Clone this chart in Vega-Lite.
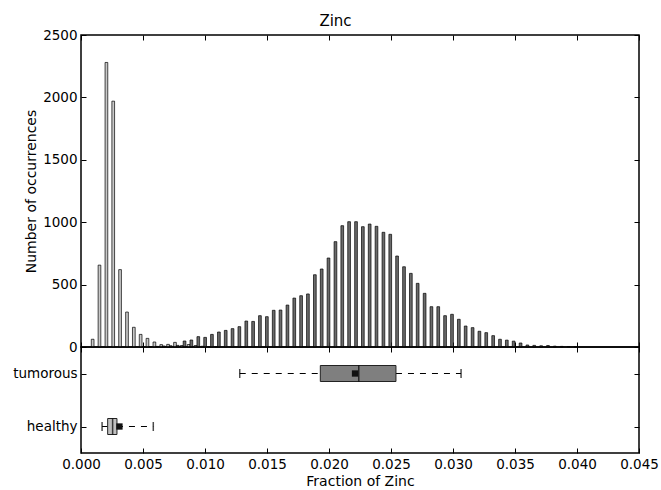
{
  "$schema": "https://vega.github.io/schema/vega-lite/v6.json",
  "padding": {"left": 11, "top": 14, "right": 5, "bottom": 0},
  "bounds": "flush",
  "spacing": 0,
  "title": {"text": "Zinc", "fontSize": 15, "fontWeight": "normal", "font": "DejaVu Sans", "color": "black", "anchor": "middle", "offset": -2},
  "config": {
    "font": "DejaVu Sans",
    "view": {"stroke": "black", "strokeWidth": 1.5},
    "axis": {"labelFont": "DejaVu Sans", "labelFontSize": 13.5, "labelColor": "black", "titleFont": "DejaVu Sans", "titleFontSize": 14, "titleFontWeight": "normal", "titleColor": "black", "grid": false, "domain": false, "tickColor": "black", "tickSize": 5, "offset": -5, "tickWidth": 1, "labelPadding": 4, "titlePadding": 4, "labelFlush": false}
  },
  "datasets": {
    "hist": [
      {"z": 0.00094, "group": "healthy", "n": 62},
      {"z": 0.00149, "group": "healthy", "n": 656},
      {"z": 0.00205, "group": "healthy", "n": 2280},
      {"z": 0.00260, "group": "healthy", "n": 1970},
      {"z": 0.00315, "group": "healthy", "n": 620},
      {"z": 0.00371, "group": "healthy", "n": 280},
      {"z": 0.00426, "group": "healthy", "n": 158},
      {"z": 0.00481, "group": "healthy", "n": 101},
      {"z": 0.00536, "group": "healthy", "n": 69},
      {"z": 0.00592, "group": "healthy", "n": 40},
      {"z": 0.00647, "group": "healthy", "n": 19},
      {"z": 0.00702, "group": "healthy", "n": 21},
      {"z": 0.00758, "group": "healthy", "n": 37},
      {"z": 0.00813, "group": "healthy", "n": 12},
      {"z": 0.00868, "group": "healthy", "n": 20},
      {"z": 0.00924, "group": "healthy", "n": 12},
      {"z": 0.00979, "group": "healthy", "n": 6},
      {"z": 0.01034, "group": "healthy", "n": 3},
      {"z": 0.01089, "group": "healthy", "n": 2},
      {"z": 0.00503, "group": "tumorous", "n": 2},
      {"z": 0.00559, "group": "tumorous", "n": 3},
      {"z": 0.00614, "group": "tumorous", "n": 5},
      {"z": 0.00669, "group": "tumorous", "n": 8},
      {"z": 0.00724, "group": "tumorous", "n": 10},
      {"z": 0.00780, "group": "tumorous", "n": 13},
      {"z": 0.00835, "group": "tumorous", "n": 48},
      {"z": 0.00890, "group": "tumorous", "n": 56},
      {"z": 0.00946, "group": "tumorous", "n": 83},
      {"z": 0.01001, "group": "tumorous", "n": 77},
      {"z": 0.01056, "group": "tumorous", "n": 101},
      {"z": 0.01112, "group": "tumorous", "n": 120},
      {"z": 0.01167, "group": "tumorous", "n": 133},
      {"z": 0.01222, "group": "tumorous", "n": 147},
      {"z": 0.01277, "group": "tumorous", "n": 163},
      {"z": 0.01333, "group": "tumorous", "n": 208},
      {"z": 0.01388, "group": "tumorous", "n": 205},
      {"z": 0.01443, "group": "tumorous", "n": 251},
      {"z": 0.01499, "group": "tumorous", "n": 243},
      {"z": 0.01554, "group": "tumorous", "n": 294},
      {"z": 0.01609, "group": "tumorous", "n": 296},
      {"z": 0.01665, "group": "tumorous", "n": 336},
      {"z": 0.01720, "group": "tumorous", "n": 392},
      {"z": 0.01775, "group": "tumorous", "n": 411},
      {"z": 0.01830, "group": "tumorous", "n": 425},
      {"z": 0.01886, "group": "tumorous", "n": 579},
      {"z": 0.01941, "group": "tumorous", "n": 625},
      {"z": 0.01996, "group": "tumorous", "n": 713},
      {"z": 0.02052, "group": "tumorous", "n": 844},
      {"z": 0.02107, "group": "tumorous", "n": 972},
      {"z": 0.02162, "group": "tumorous", "n": 1004},
      {"z": 0.02218, "group": "tumorous", "n": 1004},
      {"z": 0.02273, "group": "tumorous", "n": 964},
      {"z": 0.02328, "group": "tumorous", "n": 985},
      {"z": 0.02383, "group": "tumorous", "n": 967},
      {"z": 0.02439, "group": "tumorous", "n": 919},
      {"z": 0.02494, "group": "tumorous", "n": 903},
      {"z": 0.02549, "group": "tumorous", "n": 729},
      {"z": 0.02605, "group": "tumorous", "n": 643},
      {"z": 0.02660, "group": "tumorous", "n": 590},
      {"z": 0.02715, "group": "tumorous", "n": 510},
      {"z": 0.02771, "group": "tumorous", "n": 430},
      {"z": 0.02826, "group": "tumorous", "n": 323},
      {"z": 0.02881, "group": "tumorous", "n": 323},
      {"z": 0.02936, "group": "tumorous", "n": 251},
      {"z": 0.02992, "group": "tumorous", "n": 262},
      {"z": 0.03047, "group": "tumorous", "n": 222},
      {"z": 0.03102, "group": "tumorous", "n": 168},
      {"z": 0.03158, "group": "tumorous", "n": 155},
      {"z": 0.03213, "group": "tumorous", "n": 126},
      {"z": 0.03268, "group": "tumorous", "n": 115},
      {"z": 0.03324, "group": "tumorous", "n": 91},
      {"z": 0.03379, "group": "tumorous", "n": 62},
      {"z": 0.03434, "group": "tumorous", "n": 55},
      {"z": 0.03489, "group": "tumorous", "n": 47},
      {"z": 0.03545, "group": "tumorous", "n": 32},
      {"z": 0.03600, "group": "tumorous", "n": 16},
      {"z": 0.03655, "group": "tumorous", "n": 13},
      {"z": 0.03711, "group": "tumorous", "n": 10},
      {"z": 0.03766, "group": "tumorous", "n": 12},
      {"z": 0.03821, "group": "tumorous", "n": 7},
      {"z": 0.03877, "group": "tumorous", "n": 5},
      {"z": 0.03932, "group": "tumorous", "n": 4},
      {"z": 0.03987, "group": "tumorous", "n": 2}
    ],
    "box": [
      {"group": "tumorous", "lo": 0.0128, "q1": 0.0193, "med": 0.0224, "q3": 0.0254, "hi": 0.03065, "mean": 0.0221},
      {"group": "healthy", "lo": 0.0017, "q1": 0.00215, "med": 0.00255, "q3": 0.0029, "hi": 0.00583, "mean": 0.0031}
    ]
  },
  "vconcat": [
    {
      "width": 558,
      "height": 312,
      "data": {"name": "hist"},
      "layer": [
        {
          "mark": {"type": "bar", "size": 2.7, "stroke": "black", "strokeWidth": 0.7},
          "encoding": {
            "x": {"field": "z", "type": "quantitative", "scale": {"domain": [0, 0.045], "nice": false, "zero": false, "padding": 0}, "axis": {"orient": "bottom", "labels": false, "title": null, "values": [0, 0.005, 0.01, 0.015, 0.02, 0.025, 0.03, 0.035, 0.04, 0.045]}},
            "y": {"field": "n", "type": "quantitative", "stack": null, "scale": {"domain": [0, 2500], "nice": false}, "axis": {"orient": "left", "title": "Number of occurrences", "format": "d", "values": [0, 500, 1000, 1500, 2000, 2500]}},
            "color": {"field": "group", "type": "nominal", "scale": {"domain": ["healthy", "tumorous"], "range": ["#c8c8c8", "#6b6b6b"]}, "legend": null}
          }
        },
        {
          "mark": {"type": "point", "opacity": 0},
          "encoding": {
            "x": {"field": "z", "type": "quantitative", "scale": {"domain": [0, 0.045], "nice": false, "zero": false, "padding": 0}, "axis": {"orient": "top", "labels": false, "title": null, "values": [0, 0.005, 0.01, 0.015, 0.02, 0.025, 0.03, 0.035, 0.04, 0.045]}},
            "y": {"field": "n", "type": "quantitative", "scale": {"domain": [0, 2500], "nice": false}, "axis": {"orient": "right", "labels": false, "title": null, "values": [0, 500, 1000, 1500, 2000, 2500]}}
          }
        }
      ],
      "resolve": {"axis": {"x": "independent", "y": "independent"}}
    },
    {
      "width": 558,
      "height": 106,
      "data": {"name": "box"},
      "layer": [
        {
          "mark": {"type": "rule", "strokeDash": [6, 6], "color": "black", "strokeWidth": 1},
          "encoding": {
            "x": {"field": "lo", "type": "quantitative", "scale": {"domain": [0, 0.045], "nice": false, "zero": false, "padding": 0}, "axis": {"orient": "bottom", "title": "Fraction of Zinc", "format": ".3f", "values": [0, 0.005, 0.01, 0.015, 0.02, 0.025, 0.03, 0.035, 0.04, 0.045]}},
            "x2": {"field": "q1"},
            "y": {"field": "group", "type": "nominal", "scale": {"type": "point", "domain": ["tumorous", "healthy"], "padding": 0.5}, "axis": {"orient": "left", "title": null}}
          }
        },
        {
          "mark": {"type": "rule", "strokeDash": [6, 6], "color": "black", "strokeWidth": 1},
          "encoding": {
            "x": {"field": "q3", "type": "quantitative", "scale": {"domain": [0, 0.045], "nice": false, "zero": false, "padding": 0}, "axis": null},
            "x2": {"field": "hi"},
            "y": {"field": "group", "type": "nominal", "scale": {"type": "point", "domain": ["tumorous", "healthy"], "padding": 0.5}, "axis": null}
          }
        },
        {
          "mark": {"type": "tick", "color": "black", "size": 9, "thickness": 1.5},
          "encoding": {
            "x": {"field": "lo", "type": "quantitative", "scale": {"domain": [0, 0.045], "nice": false, "zero": false, "padding": 0}, "axis": null},
            "y": {"field": "group", "type": "nominal", "scale": {"type": "point", "domain": ["tumorous", "healthy"], "padding": 0.5}, "axis": null}
          }
        },
        {
          "mark": {"type": "tick", "color": "black", "size": 9, "thickness": 1.5},
          "encoding": {
            "x": {"field": "hi", "type": "quantitative", "scale": {"domain": [0, 0.045], "nice": false, "zero": false, "padding": 0}, "axis": null},
            "y": {"field": "group", "type": "nominal", "scale": {"type": "point", "domain": ["tumorous", "healthy"], "padding": 0.5}, "axis": null}
          }
        },
        {
          "mark": {"type": "bar", "size": 16, "stroke": "#222222", "strokeWidth": 1},
          "encoding": {
            "x": {"field": "q1", "type": "quantitative", "scale": {"domain": [0, 0.045], "nice": false, "zero": false, "padding": 0}, "axis": null},
            "x2": {"field": "q3"},
            "y": {"field": "group", "type": "nominal", "scale": {"type": "point", "domain": ["tumorous", "healthy"], "padding": 0.5}, "axis": null},
            "fill": {"field": "group", "type": "nominal", "scale": {"domain": ["tumorous", "healthy"], "range": ["#7f7f7f", "#c0c0c0"]}, "legend": null}
          }
        },
        {
          "mark": {"type": "tick", "color": "black", "size": 16, "thickness": 1.5},
          "encoding": {
            "x": {"field": "med", "type": "quantitative", "scale": {"domain": [0, 0.045], "nice": false, "zero": false, "padding": 0}, "axis": null},
            "y": {"field": "group", "type": "nominal", "scale": {"type": "point", "domain": ["tumorous", "healthy"], "padding": 0.5}, "axis": null}
          }
        },
        {
          "mark": {"type": "point", "shape": "square", "filled": true, "color": "#111111", "size": 40, "opacity": 1},
          "encoding": {
            "x": {"field": "mean", "type": "quantitative", "scale": {"domain": [0, 0.045], "nice": false, "zero": false, "padding": 0}, "axis": null},
            "y": {"field": "group", "type": "nominal", "scale": {"type": "point", "domain": ["tumorous", "healthy"], "padding": 0.5}, "axis": null}
          }
        },
        {
          "mark": {"type": "point", "opacity": 0},
          "encoding": {
            "x": {"field": "med", "type": "quantitative", "scale": {"domain": [0, 0.045], "nice": false, "zero": false, "padding": 0}, "axis": {"orient": "top", "labels": false, "title": null, "values": [0, 0.005, 0.01, 0.015, 0.02, 0.025, 0.03, 0.035, 0.04, 0.045]}},
            "y": {"field": "group", "type": "nominal", "scale": {"type": "point", "domain": ["tumorous", "healthy"], "padding": 0.5}, "axis": {"orient": "right", "labels": false, "title": null}}
          }
        }
      ],
      "resolve": {"axis": {"x": "independent", "y": "independent"}}
    }
  ]
}
